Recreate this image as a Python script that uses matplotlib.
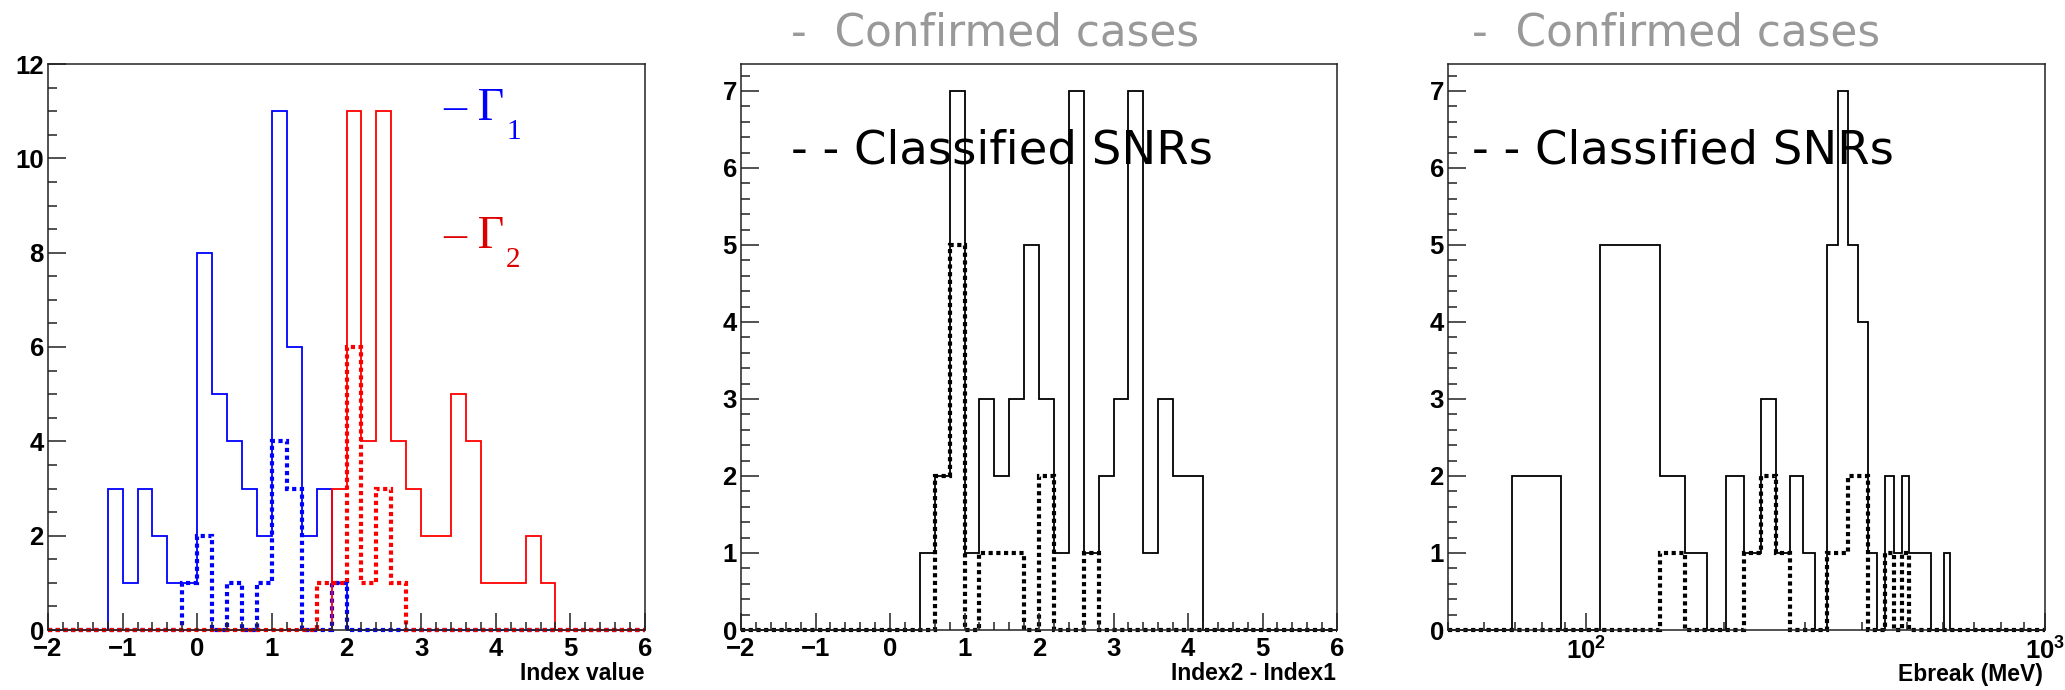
import numpy as np
import matplotlib
matplotlib.use('Agg')
import matplotlib.pyplot as plt
from matplotlib.ticker import MultipleLocator, NullFormatter, LogLocator

W, H = 2065, 690

# spectral index histograms: 40 bins of 0.2 from -2 to 6
index_edges = np.linspace(-2, 6, 41)
gamma1_all = [0, 0, 0, 0, 3, 1, 3, 2, 1, 1, 8, 5, 4, 3, 2, 11, 6, 2, 3, 1,
              0, 0, 0, 0, 0, 0, 0, 0, 0, 0, 0, 0, 0, 0, 0, 0, 0, 0, 0, 0]
gamma1_snr = [0, 0, 0, 0, 0, 0, 0, 0, 0, 1, 2, 0, 1, 0, 1, 4, 3, 0, 0, 1,
              0, 0, 0, 0, 0, 0, 0, 0, 0, 0, 0, 0, 0, 0, 0, 0, 0, 0, 0, 0]
gamma2_all = [0, 0, 0, 0, 0, 0, 0, 0, 0, 0, 0, 0, 0, 0, 0, 0, 0, 0, 0, 3,
              11, 4, 11, 4, 3, 2, 2, 5, 4, 1, 1, 1, 2, 1, 0, 0, 0, 0, 0, 0]
gamma2_snr = [0, 0, 0, 0, 0, 0, 0, 0, 0, 0, 0, 0, 0, 0, 0, 0, 0, 0, 1, 1,
              6, 1, 3, 1, 0, 0, 0, 0, 0, 0, 0, 0, 0, 0, 0, 0, 0, 0, 0, 0]

# index difference, same binning
diff_all = [0, 0, 0, 0, 0, 0, 0, 0, 0, 0, 0, 0, 1, 2, 7, 1, 3, 2, 3, 5,
            3, 1, 7, 1, 2, 3, 7, 1, 3, 2, 2, 0, 0, 0, 0, 0, 0, 0, 0, 0]
diff_snr = [0, 0, 0, 0, 0, 0, 0, 0, 0, 0, 0, 0, 0, 2, 5, 0, 1, 1, 1, 0,
            2, 0, 0, 1, 0, 0, 0, 0, 0, 0, 0, 0, 0, 0, 0, 0, 0, 0, 0, 0]

# break energy: 50 bins from 50 to 1000 MeV
ebreak_edges = np.linspace(50, 1000, 51)
ebreak_all = [0, 2, 0, 5, 5, 2, 1, 0, 2, 1, 3, 1, 2, 1, 0, 5, 7, 5, 4, 1,
              0, 2, 1, 2, 1, 1, 1, 0, 0, 1, 0, 0, 0, 0, 0, 0, 0, 0, 0, 0,
              0, 0, 0, 0, 0, 0, 0, 0, 0, 0]
ebreak_snr = [0, 0, 0, 0, 0, 1, 0, 0, 0, 1, 2, 1, 0, 0, 0, 1, 1, 2, 2, 0,
              0, 1, 0, 1, 0, 0, 0, 0, 0, 0, 0, 0, 0, 0, 0, 0, 0, 0, 0, 0,
              0, 0, 0, 0, 0, 0, 0, 0, 0, 0]

plt.rcParams['font.family'] = 'Liberation Sans'
plt.rcParams['font.weight'] = 'bold'
plt.rcParams['mathtext.fontset'] = 'custom'
plt.rcParams['mathtext.rm'] = 'Liberation Sans:bold'
plt.rcParams['mathtext.bf'] = 'Liberation Sans:bold'


def px(x, y):
    return x / W, 1 - y / H


def hist(ax, edges, counts, color, dotted=False):
    if dotted:
        ax.stairs(counts, edges, color=color, lw=3.0,
                  linestyle=(0, (1, 0.85)), clip_on=False)
    else:
        ax.stairs(counts, edges, color=color, lw=1.3, clip_on=False)


def frame(ax, ymax, ymin_step):
    ax.set_ylim(0, ymax)
    for s in ax.spines.values():
        s.set_linewidth(1.1)
        s.set_color('#222222')
    ax.yaxis.set_minor_locator(MultipleLocator(ymin_step))
    ax.tick_params(which='both', direction='in', top=False, right=False,
                   color='#222222', labelsize=18.5, width=1.1)
    ax.tick_params(axis='y', which='major', length=13, pad=3)
    ax.tick_params(axis='y', which='minor', length=6.5)
    ax.tick_params(axis='x', which='major', length=12, pad=5)
    ax.tick_params(axis='x', which='minor', length=6)


fig = plt.figure(figsize=(W / 100, H / 100), dpi=100)
top, bottom = 64, 630
ax1 = fig.add_axes([48 / W, 1 - bottom / H, 597 / W, (bottom - top) / H])
ax2 = fig.add_axes([741 / W, 1 - bottom / H, 596 / W, (bottom - top) / H])
ax3 = fig.add_axes([1448 / W, 1 - bottom / H, 597 / W, (bottom - top) / H])

# left: Gamma1 / Gamma2
hist(ax1, index_edges, gamma1_all, 'blue')
hist(ax1, index_edges, gamma1_snr, 'blue', dotted=True)
hist(ax1, index_edges, gamma2_all, 'red')
hist(ax1, index_edges, gamma2_snr, 'red', dotted=True)
ax1.set_xlim(-2, 6)
ax1.xaxis.set_major_locator(MultipleLocator(1))
ax1.xaxis.set_minor_locator(MultipleLocator(0.2))
ax1.yaxis.set_major_locator(MultipleLocator(2))
frame(ax1, 12, 0.5)

# middle: index difference
hist(ax2, index_edges, diff_all, 'black')
hist(ax2, index_edges, diff_snr, 'black', dotted=True)
ax2.set_xlim(-2, 6)
ax2.xaxis.set_major_locator(MultipleLocator(1))
ax2.xaxis.set_minor_locator(MultipleLocator(0.2))
ax2.yaxis.set_major_locator(MultipleLocator(1))
frame(ax2, 7.35, 0.2)

# right: break energy on log axis
hist(ax3, ebreak_edges, ebreak_all, 'black')
hist(ax3, ebreak_edges, ebreak_snr, 'black', dotted=True)
ax3.set_xscale('log')
ax3.set_xlim(50, 1000)
ax3.set_xticks([100, 1000], labels=[r'$\mathbf{10^{2}}$', r'$\mathbf{10^{3}}$'])
ax3.xaxis.set_minor_locator(LogLocator(subs=np.arange(2, 10)))
ax3.xaxis.set_minor_formatter(NullFormatter())
ax3.yaxis.set_major_locator(MultipleLocator(1))
frame(ax3, 7.35, 0.2)

# axis titles
fig.text(*px(644, 673), 'Index value', ha='right', va='center', fontsize=16.5)
fig.text(*px(1336, 673), 'Index2 - Index1', ha='right', va='center', fontsize=16.5)
fig.text(*px(2043, 675), 'Ebreak (MeV)', ha='right', va='center', fontsize=16.5)

# labels
for x0 in (791, 1472):
    fig.text(*px(x0, 45), '-  Confirmed cases', color='#999999', fontsize=31.5,
             family='DejaVu Sans', weight='normal', va='baseline')
    fig.text(*px(x0, 164), '- - Classified SNRs', color='black', fontsize=33.5,
             family='DejaVu Sans', weight='normal', va='baseline')

fig.text(*px(443, 120), '\u2013 \u0393', color='blue', fontsize=33,
         family='Liberation Serif', weight='normal', va='baseline')
fig.text(*px(506, 139), '1', color='blue', fontsize=21,
         family='Liberation Serif', weight='normal', va='baseline')
fig.text(*px(443, 248), '\u2013 \u0393', color='#dd0000', fontsize=33,
         family='Liberation Serif', weight='normal', va='baseline')
fig.text(*px(506, 267), '2', color='#dd0000', fontsize=21,
         family='Liberation Serif', weight='normal', va='baseline')

fig.savefig('out.png', dpi=100, facecolor='white')
